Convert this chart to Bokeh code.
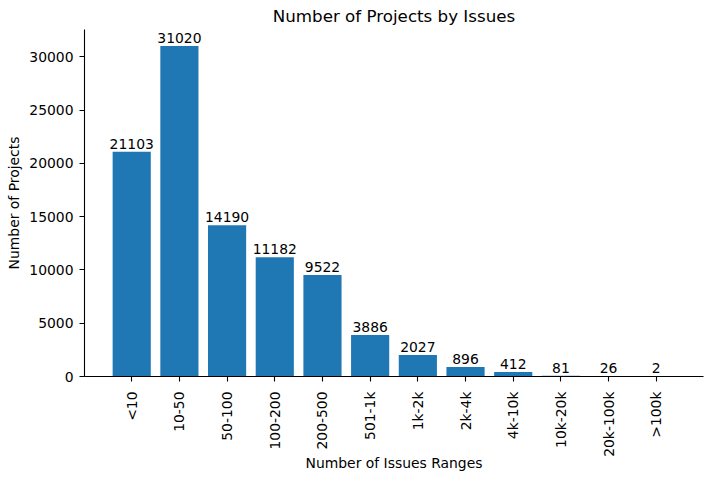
import numpy as np
from bokeh.plotting import figure
from bokeh.models import ColumnDataSource, Range1d, FixedTicker, Title
from bokeh.core.properties import value
from bokeh.embed import file_html
from bokeh.resources import INLINE

categories = ["<10", "10-50", "50-100", "100-200", "200-500", "501-1k",
              "1k-2k", "2k-4k", "4k-10k", "10k-20k", "20k-100k", ">100k"]
projects = [21103, 31020, 14190, 11182, 9522, 3886, 2027, 896, 412, 81, 26, 2]
y_ticks = [0, 5000, 10000, 15000, 20000, 25000, 30000]

FONT = "DejaVu Sans"
TICK_FS = "13.9px"

idx = list(range(len(categories)))
src = ColumnDataSource(dict(x=idx, top=projects, lab=[str(v) for v in projects]))

n = len(categories)
xmin, xmax = -0.4, n - 1 + 0.4
xpad = (xmax - xmin) * 0.05
x0, x1 = xmin - xpad, xmax + xpad
ymax = max(projects) * 1.05

p = figure(width=713, height=481, output_backend="svg", toolbar_location=None,
           x_range=Range1d(x0, x1), y_range=Range1d(0, ymax),
           min_border_left=84, min_border_right=10, min_border_bottom=105, min_border_top=0)
p.title = None
p.add_layout(Title(text="Number of Projects by Issues", align="center",
                   text_font=FONT, text_font_size="16.7px", text_font_style="normal",
                   text_color="black", standoff=7), "above")

p.vbar(x="x", top="top", width=0.8, bottom=0, source=src, color="#1f77b4", line_color=None)
p.text(x="x", y="top", text="lab", source=src, text_align="center", text_baseline="alphabetic",
       y_offset=-8, text_font=value(FONT), text_font_size=TICK_FS, text_color="black")

p.outline_line_color = None
p.grid.grid_line_color = None
p.background_fill_color = "white"
p.border_fill_color = "white"

for ax in (p.xaxis[0], p.yaxis[0]):
    ax.axis_line_color = "black"
    ax.axis_line_width = 1.1
    ax.major_tick_line_color = "black"
    ax.major_tick_line_width = 1.1
    ax.major_tick_out = 5
    ax.major_tick_in = 0
    ax.minor_tick_line_color = None
    ax.major_label_text_font = FONT
    ax.major_label_text_font_size = TICK_FS
    ax.major_label_text_color = "black"
    ax.axis_label_text_font = FONT
    ax.axis_label_text_font_size = TICK_FS
    ax.axis_label_text_font_style = "normal"
    ax.axis_label_text_color = "black"

p.xaxis.ticker = FixedTicker(ticks=idx)
p.xaxis.major_label_overrides = {i: c for i, c in enumerate(categories)}
p.xaxis.major_label_orientation = np.pi / 2
p.xaxis.major_label_standoff = 10
p.xaxis.axis_label = "Number of Issues Ranges"
p.xaxis.axis_label_standoff = -5

p.yaxis.ticker = FixedTicker(ticks=y_ticks)
p.yaxis.major_label_standoff = 6
p.yaxis.axis_label = "Number of Projects"
p.yaxis.axis_label_standoff = 4

open("out.html", "w").write(file_html(p, INLINE))
